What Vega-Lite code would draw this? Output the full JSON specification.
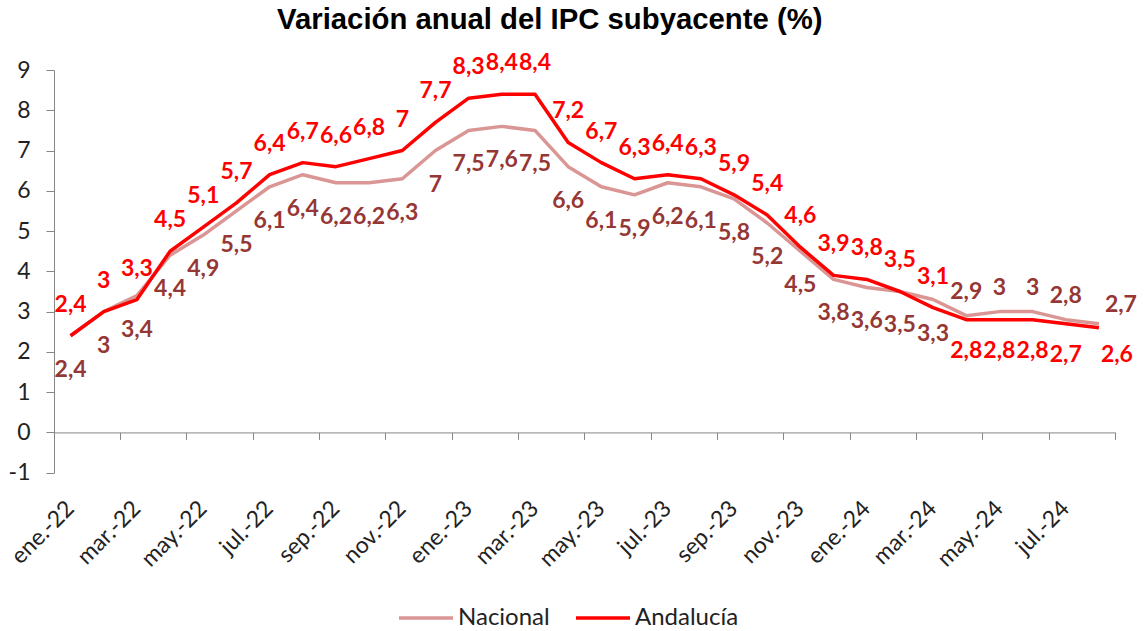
{
  "$schema": "https://vega.github.io/schema/vega-lite/v6.json",
  "width": 1061.5,
  "height": 402.7,
  "autosize": {"type": "none"},
  "padding": {"left": 54, "top": 70, "right": 29.5, "bottom": 158.3},
  "title": {"text": "Variación anual del IPC subyacente (%)", "font": "Liberation Sans", "fontSize": 29.3, "fontWeight": "bold", "color": "#000000", "anchor": "middle", "frame": "group", "dx": -35, "offset": 17},
  "config": {
    "view": {"stroke": null},
    "font": "Lato",
    "axisY": {"title": null, "grid": false, "domainColor": "#868686", "tickColor": "#868686", "tickSize": 8, "labelFont": "Lato", "labelFontSize": 23, "labelColor": "#222222", "labelPadding": 16},
    "locale": {"number": {"decimal": ",", "thousands": ".", "grouping": [3], "currency": ["", " €"], "minus": "-"}}
  },
  "data": {"values": [
    {"mes": "ene.-22", "nacional": 2.4, "andalucia": 2.4},
    {"mes": "feb.-22", "nacional": 3, "andalucia": 3},
    {"mes": "mar.-22", "nacional": 3.4, "andalucia": 3.3},
    {"mes": "abr.-22", "nacional": 4.4, "andalucia": 4.5},
    {"mes": "may.-22", "nacional": 4.9, "andalucia": 5.1},
    {"mes": "jun.-22", "nacional": 5.5, "andalucia": 5.7},
    {"mes": "jul.-22", "nacional": 6.1, "andalucia": 6.4},
    {"mes": "ago.-22", "nacional": 6.4, "andalucia": 6.7},
    {"mes": "sep.-22", "nacional": 6.2, "andalucia": 6.6},
    {"mes": "oct.-22", "nacional": 6.2, "andalucia": 6.8},
    {"mes": "nov.-22", "nacional": 6.3, "andalucia": 7},
    {"mes": "dic.-22", "nacional": 7, "andalucia": 7.7},
    {"mes": "ene.-23", "nacional": 7.5, "andalucia": 8.3},
    {"mes": "feb.-23", "nacional": 7.6, "andalucia": 8.4},
    {"mes": "mar.-23", "nacional": 7.5, "andalucia": 8.4},
    {"mes": "abr.-23", "nacional": 6.6, "andalucia": 7.2},
    {"mes": "may.-23", "nacional": 6.1, "andalucia": 6.7},
    {"mes": "jun.-23", "nacional": 5.9, "andalucia": 6.3},
    {"mes": "jul.-23", "nacional": 6.2, "andalucia": 6.4},
    {"mes": "ago.-23", "nacional": 6.1, "andalucia": 6.3},
    {"mes": "sep.-23", "nacional": 5.8, "andalucia": 5.9},
    {"mes": "oct.-23", "nacional": 5.2, "andalucia": 5.4},
    {"mes": "nov.-23", "nacional": 4.5, "andalucia": 4.6},
    {"mes": "dic.-23", "nacional": 3.8, "andalucia": 3.9},
    {"mes": "ene.-24", "nacional": 3.6, "andalucia": 3.8},
    {"mes": "feb.-24", "nacional": 3.5, "andalucia": 3.5},
    {"mes": "mar.-24", "nacional": 3.3, "andalucia": 3.1},
    {"mes": "abr.-24", "nacional": 2.9, "andalucia": 2.8},
    {"mes": "may.-24", "nacional": 3, "andalucia": 2.8},
    {"mes": "jun.-24", "nacional": 3, "andalucia": 2.8},
    {"mes": "jul.-24", "nacional": 2.8, "andalucia": 2.7},
    {"mes": "ago.-24", "nacional": 2.7, "andalucia": 2.6}
  ]},
  "resolve": {"axis": {"x": "independent"}},
  "layer": [
    {
      "mark": {"type": "line", "strokeWidth": 3.5, "strokeJoin": "round"},
      "encoding": {
        "x": {
          "field": "mes", "type": "nominal", "sort": null, "bandPosition": 0.5,
          "scale": {"type": "band", "paddingInner": 0, "paddingOuter": 0, "domain": ["ene.-22","feb.-22","mar.-22","abr.-22","may.-22","jun.-22","jul.-22","ago.-22","sep.-22","oct.-22","nov.-22","dic.-22","ene.-23","feb.-23","mar.-23","abr.-23","may.-23","jun.-23","jul.-23","ago.-23","sep.-23","oct.-23","nov.-23","dic.-23","ene.-24","feb.-24","mar.-24","abr.-24","may.-24","jun.-24","jul.-24","ago.-24"]},
          "axis": {"orient": "bottom", "values": ["ene.-22","mar.-22","may.-22","jul.-22","sep.-22","nov.-22","ene.-23","mar.-23","may.-23","jul.-23","sep.-23","nov.-23","ene.-24","mar.-24","may.-24","jul.-24"], "domain": false, "ticks": false, "grid": false, "title": null, "labelAngle": -45, "labelAlign": "right", "labelBaseline": "middle", "labelFont": "Lato", "labelFontSize": 23, "labelColor": "#222222", "labelPadding": 32}
        },
        "y": {
          "field": "nacional", "type": "quantitative",
          "scale": {"domain": [-1, 9], "nice": false, "zero": false},
          "axis": {"values": [-1, 0, 1, 2, 3, 4, 5, 6, 7, 8, 9], "format": "d", "title": null}
        },
        "color": {
          "datum": "Nacional", "type": "nominal",
          "scale": {"domain": ["Nacional", "Andalucía"], "range": ["#D99694", "#FF0000"]},
          "legend": {"orient": "none", "legendX": 343, "legendY": 519, "direction": "horizontal", "title": null, "symbolType": "stroke", "symbolSize": 2916, "symbolStrokeWidth": 3.5, "labelFont": "Lato", "labelFontSize": 24, "labelColor": "#222222", "columnPadding": 19, "labelOffset": 3, "padding": 0}
        }
      }
    },
    {
      "mark": {"type": "line", "strokeWidth": 3.5, "strokeJoin": "round"},
      "encoding": {
        "x": {
          "field": "mes", "type": "nominal", "sort": null, "bandPosition": 0.5,
          "axis": {"orient": "bottom", "offset": -40.27, "values": ["feb.-22","abr.-22","jun.-22","ago.-22","oct.-22","dic.-22","feb.-23","abr.-23","jun.-23","ago.-23","oct.-23","dic.-23","feb.-24","abr.-24","jun.-24","ago.-24"], "bandPosition": 1, "labels": false, "domain": true, "domainColor": "#868686", "ticks": true, "tickColor": "#868686", "tickSize": 7, "grid": false, "title": null}
        },
        "y": {"field": "andalucia", "type": "quantitative", "axis": {"values": [-1, 0, 1, 2, 3, 4, 5, 6, 7, 8, 9], "format": "d", "title": null}},
        "color": {"datum": "Andalucía", "type": "nominal"}
      }
    },
    {
      "transform": [{"filter": {"not": {"field": "mes", "oneOf": ["abr.-24", "may.-24", "jun.-24", "jul.-24", "ago.-24"]}}}],
      "mark": {"type": "text", "font": "Lato", "fontWeight": "bold", "fontSize": 23, "color": "#FF0000", "dy": -31},
      "encoding": {
        "x": {"field": "mes", "type": "nominal", "sort": null, "bandPosition": 0.5, "axis": null},
        "y": {"field": "andalucia", "type": "quantitative", "axis": {"values": [-1, 0, 1, 2, 3, 4, 5, 6, 7, 8, 9], "format": "d", "title": null}},
        "text": {"field": "andalucia", "type": "quantitative", "format": ".1~f"}
      }
    },
    {
      "transform": [{"filter": {"field": "mes", "oneOf": ["abr.-24", "may.-24", "jun.-24", "jul.-24"]}}],
      "mark": {"type": "text", "font": "Lato", "fontWeight": "bold", "fontSize": 23, "color": "#FF0000", "dy": 31},
      "encoding": {
        "x": {"field": "mes", "type": "nominal", "sort": null, "bandPosition": 0.5, "axis": null},
        "y": {"field": "andalucia", "type": "quantitative", "axis": {"values": [-1, 0, 1, 2, 3, 4, 5, 6, 7, 8, 9], "format": "d", "title": null}},
        "text": {"field": "andalucia", "type": "quantitative", "format": ".1~f"}
      }
    },
    {
      "transform": [{"filter": {"field": "mes", "equal": "ago.-24"}}],
      "mark": {"type": "text", "font": "Lato", "fontWeight": "bold", "fontSize": 23, "color": "#FF0000", "dy": 27, "dx": 18},
      "encoding": {
        "x": {"field": "mes", "type": "nominal", "sort": null, "bandPosition": 0.5, "axis": null},
        "y": {"field": "andalucia", "type": "quantitative", "axis": {"values": [-1, 0, 1, 2, 3, 4, 5, 6, 7, 8, 9], "format": "d", "title": null}},
        "text": {"field": "andalucia", "type": "quantitative", "format": ".1~f"}
      }
    },
    {
      "transform": [{"filter": {"not": {"field": "mes", "oneOf": ["abr.-24", "may.-24", "jun.-24", "jul.-24", "ago.-24"]}}}],
      "mark": {"type": "text", "font": "Lato", "fontWeight": "bold", "fontSize": 23, "color": "#953735", "dy": 34},
      "encoding": {
        "x": {"field": "mes", "type": "nominal", "sort": null, "bandPosition": 0.5, "axis": null},
        "y": {"field": "nacional", "type": "quantitative", "axis": {"values": [-1, 0, 1, 2, 3, 4, 5, 6, 7, 8, 9], "format": "d", "title": null}},
        "text": {"field": "nacional", "type": "quantitative", "format": ".1~f"}
      }
    },
    {
      "transform": [{"filter": {"field": "mes", "oneOf": ["abr.-24", "may.-24", "jun.-24", "jul.-24"]}}],
      "mark": {"type": "text", "font": "Lato", "fontWeight": "bold", "fontSize": 23, "color": "#953735", "dy": -24},
      "encoding": {
        "x": {"field": "mes", "type": "nominal", "sort": null, "bandPosition": 0.5, "axis": null},
        "y": {"field": "nacional", "type": "quantitative", "axis": {"values": [-1, 0, 1, 2, 3, 4, 5, 6, 7, 8, 9], "format": "d", "title": null}},
        "text": {"field": "nacional", "type": "quantitative", "format": ".1~f"}
      }
    },
    {
      "transform": [{"filter": {"field": "mes", "equal": "ago.-24"}}],
      "mark": {"type": "text", "font": "Lato", "fontWeight": "bold", "fontSize": 23, "color": "#953735", "dy": -19, "dx": 22},
      "encoding": {
        "x": {"field": "mes", "type": "nominal", "sort": null, "bandPosition": 0.5, "axis": null},
        "y": {"field": "nacional", "type": "quantitative", "axis": {"values": [-1, 0, 1, 2, 3, 4, 5, 6, 7, 8, 9], "format": "d", "title": null}},
        "text": {"field": "nacional", "type": "quantitative", "format": ".1~f"}
      }
    }
  ]
}
